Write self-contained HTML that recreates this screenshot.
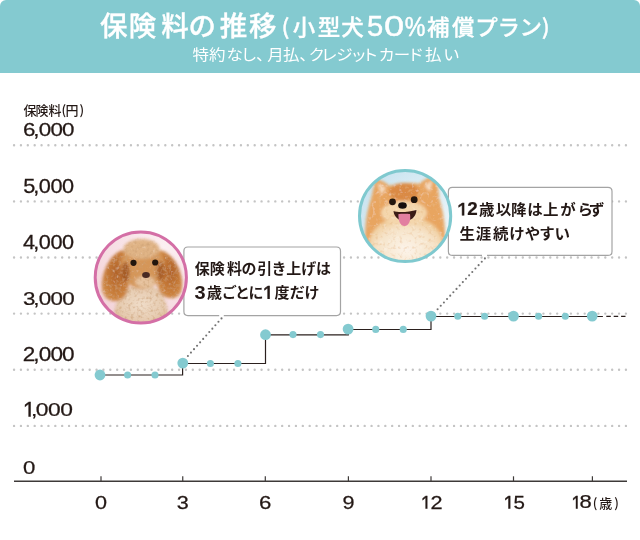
<!DOCTYPE html>
<html lang="ja">
<head>
<meta charset="utf-8">
<title>保険料の推移</title>
<style>
html,body{margin:0;padding:0;background:#fff;}
body{width:640px;height:540px;overflow:hidden;position:relative;}
svg{position:absolute;left:0;top:0;display:block;}
</style>
</head>
<body>
<svg width="640" height="540" viewBox="0 0 640 540">
<path d="M0,73 V6 A6,6 0 0 1 6,0 H634 A6,6 0 0 1 640,6 V73 Z" fill="#84cad0"/>
<text transform="translate(0,36.3) scale(1.0,0.98)" x="100.05 128.8 161.25 188.6 219.85 248.95" y="0" font-family='"Noto Sans CJK JP", sans-serif' font-size="27.5" font-weight="500" fill="#fff" stroke="#fff" stroke-width="0.35">保険料の推移</text>
<text transform="translate(0,35.32) scale(1.0,0.96)" x="281.4 292.65 317.8 341.2" y="0" font-family='"Noto Sans CJK JP", sans-serif' font-size="22.5" font-weight="500" fill="#fff" stroke="#fff" stroke-width="0.3">(小型犬</text>
<text transform="translate(0,35.08) scale(1.0,0.96)" x="427.05 451.95 475.25 497.6 519.5 541.8" y="0" font-family='"Noto Sans CJK JP", sans-serif' font-size="22.5" font-weight="500" fill="#fff" stroke="#fff" stroke-width="0.3">補償プラン)</text>
<text transform="translate(367.10,35.74) scale(1.042,1.036)" font-family='"Liberation Sans","Noto Sans CJK JP", sans-serif' font-size="28" font-weight="400" fill="#fff" stroke="#fff" stroke-width="0.45">5</text>
<text transform="translate(384.10,35.94) scale(1.296,1.058)" font-family='"Liberation Sans","Noto Sans CJK JP", sans-serif' font-size="28" font-weight="400" fill="#fff" stroke="#fff" stroke-width="0.4">0</text>
<text transform="translate(404.87,36.00) scale(0.967,1.158)" font-family='"Liberation Sans","Noto Sans CJK JP", sans-serif' font-size="24" font-weight="400" fill="#fff" stroke="#fff" stroke-width="0.45">%</text>
<text transform="translate(0,60.34) scale(1.0,0.93)" x="192.6 209.0 226.55 240.7 256.0 267.3 282.9 299.3 308.55 321.05 336.25 350.4 362.0 378.6 393.85 407.5 425.1 443.3" y="0" font-family='"Noto Sans CJK JP", sans-serif' font-size="16.5" font-weight="400" fill="#fff">特約なし、月払、クレジットカード払い</text>
<text x="23.55 35.4 48.5 61.45 65.5 79.45" y="115.0" font-family='"Noto Sans CJK JP", sans-serif' font-size="13" font-weight="500" fill="#231815">保険料(円)</text>
<g stroke="#c4c4c4" stroke-width="2.4" stroke-linecap="round" stroke-dasharray="0 6.875">
<line x1="14.06" y1="145.3" x2="628" y2="145.3"/>
<line x1="14.06" y1="201.4" x2="628" y2="201.4"/>
<line x1="14.06" y1="257.5" x2="628" y2="257.5"/>
<line x1="14.06" y1="313.6" x2="628" y2="313.6"/>
<line x1="14.06" y1="369.75" x2="628" y2="369.75"/>
<line x1="14.06" y1="425.9" x2="628" y2="425.9"/>
</g>
<text transform="translate(0,136.45) scale(1.177,1.000)" x="19.47 28.24 32.89 42.83 52.77" y="0" font-family='"Liberation Sans","Noto Sans CJK JP", sans-serif' font-size="19" font-weight="400" fill="#231815" stroke="#231815" stroke-width="0.25">6,000</text>
<text transform="translate(0,192.55) scale(1.144,1.019)" x="20.31 29.09 33.85 44.08 54.3" y="0" font-family='"Liberation Sans","Noto Sans CJK JP", sans-serif' font-size="19" font-weight="400" fill="#231815" stroke="#231815" stroke-width="0.25">5,000</text>
<text transform="translate(0,248.50) scale(1.144,1.038)" x="20.12 29.09 33.85 44.08 54.3" y="0" font-family='"Liberation Sans","Noto Sans CJK JP", sans-serif' font-size="19" font-weight="400" fill="#231815" stroke="#231815" stroke-width="0.25">4,000</text>
<text transform="translate(0,304.55) scale(1.178,1.000)" x="19.46 28.22 32.87 42.81 52.74" y="0" font-family='"Liberation Sans","Noto Sans CJK JP", sans-serif' font-size="19" font-weight="400" fill="#231815" stroke="#231815" stroke-width="0.25">3,000</text>
<text transform="translate(0,360.90) scale(1.189,1.019)" x="19.19 27.94 32.56 42.4 52.24" y="0" font-family='"Liberation Sans","Noto Sans CJK JP", sans-serif' font-size="19" font-weight="400" fill="#231815" stroke="#231815" stroke-width="0.25">2,000</text>
<clipPath id="c1_1"><rect x="22" y="400.20000000000005" width="11.7" height="16.49999999999998"/></clipPath><g clip-path="url(#c1_1)"><text transform="translate(22.79,419.24) scale(1.224,1.224)" font-family='"Liberation Sans", sans-serif' font-size="19" font-weight="400" fill="#231815" stroke="#231815" stroke-width="0.25">1</text></g>
<text transform="translate(0,416.35) scale(1.200,0.993)" x="25.75 29.83 40.0 50.17" y="0" font-family='"Liberation Sans","Noto Sans CJK JP", sans-serif' font-size="19" font-weight="400" fill="#231815" stroke="#231815" stroke-width="0.25">,000</text>
<text transform="translate(23.12,474.37) scale(1.167,0.933)" font-family='"Liberation Sans","Noto Sans CJK JP", sans-serif' font-size="19" font-weight="400" fill="#231815" stroke="#231815" stroke-width="0.25">0</text>
<line x1="14" y1="481.2" x2="627" y2="481.2" stroke="#3e3a39" stroke-width="1.5"/>
<g stroke="#3e3a39" stroke-width="1.2">
<line x1="101" y1="476.3" x2="101" y2="481"/>
<line x1="182.75" y1="476.3" x2="182.75" y2="481"/>
<line x1="265.3" y1="476.3" x2="265.3" y2="481"/>
<line x1="348.4" y1="476.3" x2="348.4" y2="481"/>
<line x1="431" y1="476.3" x2="431" y2="481"/>
<line x1="513.5" y1="476.3" x2="513.5" y2="481"/>
<line x1="592.4" y1="476.3" x2="592.4" y2="481"/>
</g>
<text transform="translate(95.00,508.50) scale(1.200,1.008)" font-family='"Liberation Sans","Noto Sans CJK JP", sans-serif' font-size="18" font-weight="400" fill="#231815" stroke="#231815" stroke-width="0.25">0</text>
<text transform="translate(176.75,508.50) scale(1.200,1.008)" font-family='"Liberation Sans","Noto Sans CJK JP", sans-serif' font-size="18" font-weight="400" fill="#231815" stroke="#231815" stroke-width="0.25">3</text>
<text transform="translate(258.96,508.50) scale(1.236,1.008)" font-family='"Liberation Sans","Noto Sans CJK JP", sans-serif' font-size="18" font-weight="400" fill="#231815" stroke="#231815" stroke-width="0.25">6</text>
<text transform="translate(342.40,508.50) scale(1.200,1.008)" font-family='"Liberation Sans","Noto Sans CJK JP", sans-serif' font-size="18" font-weight="400" fill="#231815" stroke="#231815" stroke-width="0.25">9</text>
<clipPath id="c1_2"><rect x="419.5" y="493" width="10.699999999999989" height="15.85"/></clipPath><g clip-path="url(#c1_2)"><text transform="translate(420.68,511.31) scale(1.066,1.233)" font-family='"Liberation Sans", sans-serif' font-size="18" font-weight="400" fill="#231815" stroke="#231815" stroke-width="0.25">1</text></g>
<text transform="translate(430.39,508.75) scale(1.206,1.020)" font-family='"Liberation Sans","Noto Sans CJK JP", sans-serif' font-size="18" font-weight="400" fill="#231815" stroke="#231815" stroke-width="0.25">2</text>
<clipPath id="c1_3"><rect x="502.3" y="493" width="11.0" height="15.85"/></clipPath><g clip-path="url(#c1_3)"><text transform="translate(503.36,511.31) scale(1.134,1.233)" font-family='"Liberation Sans", sans-serif' font-size="18" font-weight="400" fill="#231815" stroke="#231815" stroke-width="0.25">1</text></g>
<text transform="translate(513.54,508.50) scale(1.141,1.020)" font-family='"Liberation Sans","Noto Sans CJK JP", sans-serif' font-size="18" font-weight="400" fill="#231815" stroke="#231815" stroke-width="0.25">5</text>
<clipPath id="c1_4"><rect x="570.0" y="493.1" width="10.600000000000023" height="15.699999999999966"/></clipPath><g clip-path="url(#c1_4)"><text transform="translate(571.22,511.25) scale(1.043,1.220)" font-family='"Liberation Sans", sans-serif' font-size="18" font-weight="400" fill="#231815" stroke="#231815" stroke-width="0.25">1</text></g>
<text transform="translate(579.48,508.45) scale(1.224,0.988)" font-family='"Liberation Sans","Noto Sans CJK JP", sans-serif' font-size="18" font-weight="400" fill="#231815" stroke="#231815" stroke-width="0.25">8</text>
<text x="592.75 599.2 614.35" y="507.7" font-family='"Noto Sans CJK JP", sans-serif' font-size="13" font-weight="500" fill="#231815">(歳)</text>
<g fill="#727272"><circle cx="187.90" cy="356.00" r="1.05"/><circle cx="190.95" cy="352.58" r="1.05"/><circle cx="194.01" cy="349.16" r="1.05"/><circle cx="197.06" cy="345.75" r="1.05"/><circle cx="200.12" cy="342.33" r="1.05"/><circle cx="203.17" cy="338.91" r="1.05"/><circle cx="206.23" cy="335.49" r="1.05"/><circle cx="209.28" cy="332.07" r="1.05"/><circle cx="212.34" cy="328.65" r="1.05"/><circle cx="215.39" cy="325.24" r="1.05"/><circle cx="218.45" cy="321.82" r="1.05"/><circle cx="221.50" cy="318.40" r="1.05"/></g>
<g fill="#727272"><circle cx="437.60" cy="309.20" r="1.05"/><circle cx="440.75" cy="305.81" r="1.05"/><circle cx="443.91" cy="302.43" r="1.05"/><circle cx="447.06" cy="299.04" r="1.05"/><circle cx="450.21" cy="295.65" r="1.05"/><circle cx="453.37" cy="292.27" r="1.05"/><circle cx="456.52" cy="288.88" r="1.05"/><circle cx="459.67" cy="285.49" r="1.05"/><circle cx="462.83" cy="282.11" r="1.05"/><circle cx="465.98" cy="278.72" r="1.05"/><circle cx="469.13" cy="275.33" r="1.05"/><circle cx="472.29" cy="271.95" r="1.05"/><circle cx="475.44" cy="268.56" r="1.05"/><circle cx="478.59" cy="265.17" r="1.05"/><circle cx="481.75" cy="261.79" r="1.05"/><circle cx="484.90" cy="258.40" r="1.05"/></g>
<path d="M100,375 H182.6 V363.5 H265.5 V334.9 H348.3 V329.5 H431 V316.5 H602.9" fill="none" stroke="#2b201e" stroke-width="1.2"/>
<line x1="606.3" y1="316.4" x2="625.5" y2="316.4" stroke="#2b201e" stroke-width="1.2" stroke-dasharray="4.5 2.9"/>
<g fill="#84cad0">
<circle cx="100" cy="375" r="5.4"/>
<circle cx="182.8" cy="363.1" r="5.4"/>
<circle cx="265.5" cy="334.7" r="5.4"/>
<circle cx="348.1" cy="329.1" r="5.4"/>
<circle cx="431" cy="316.1" r="5.4"/>
<circle cx="513.5" cy="316.1" r="5.4"/>
<circle cx="592.2" cy="316.1" r="5.4"/>
<circle cx="127.6" cy="375" r="3.55"/>
<circle cx="155" cy="375" r="3.55"/>
<circle cx="210.4" cy="363.5" r="3.55"/>
<circle cx="237.9" cy="363.5" r="3.55"/>
<circle cx="293" cy="334.6" r="3.55"/>
<circle cx="320.5" cy="334.6" r="3.55"/>
<circle cx="375.75" cy="329.4" r="3.55"/>
<circle cx="403.25" cy="329.4" r="3.55"/>
<circle cx="457.8" cy="316.2" r="3.55"/>
<circle cx="484.6" cy="316.2" r="3.55"/>
<circle cx="538.6" cy="316.2" r="3.55"/>
<circle cx="565.3" cy="316.2" r="3.55"/>
</g>
<rect x="183.9" y="247.0" width="156.6" height="68.60000000000002" rx="4" fill="#fff"/><path d="M223.8,315.6 H336.5 Q340.5,315.6 340.5,311.6 V251.0 Q340.5,247.0 336.5,247.0 H187.9 Q183.9,247.0 183.9,251.0 V311.6 Q183.9,315.6 187.9,315.6 H219.2" fill="none" stroke="#a4a4a4" stroke-width="1.2"/>
<text transform="translate(0,274.31) scale(1.0,0.95)" x="194.65 209.8 226.95 241.5 257.35 271.5 286.15 301.25 316.0" y="0" font-family='"Noto Sans CJK JP", sans-serif' font-size="15" font-weight="700" fill="#231815">保険料の引き上げは</text>
<text transform="translate(194.41,298.64) scale(1.176,1.042)" font-family='"Liberation Sans","Noto Sans CJK JP", sans-serif' font-size="17" font-weight="700" fill="#231815">3</text>
<text transform="translate(0,297.81) scale(1.0,0.95)" x="207.0 221.75 235.05 248.5" y="0" font-family='"Noto Sans CJK JP", sans-serif' font-size="15" font-weight="700" fill="#231815">歳ごとに</text>
<clipPath id="c1_5"><rect x="261.6" y="283.4" width="10.899999999999977" height="15.6"/></clipPath><g clip-path="url(#c1_5)"><text transform="translate(262.70,301.43) scale(1.176,1.282)" font-family='"Liberation Sans", sans-serif' font-size="17" font-weight="400" fill="#231815" stroke="#231815" stroke-width="0.5">1</text></g>
<text transform="translate(0,297.81) scale(1.0,0.95)" x="274.6 289.7 304.4" y="0" font-family='"Noto Sans CJK JP", sans-serif' font-size="15" font-weight="700" fill="#231815">度だけ</text>
<rect x="448.4" y="187.3" width="163.60000000000002" height="68.1" rx="4" fill="#fff"/><path d="M487,255.4 H608.0 Q612.0,255.4 612.0,251.4 V191.3 Q612.0,187.3 608.0,187.3 H452.4 Q448.4,187.3 448.4,191.3 V251.4 Q448.4,255.4 452.4,255.4 H482" fill="none" stroke="#a4a4a4" stroke-width="1.2"/>
<clipPath id="c1_6"><rect x="455.75" y="199.2" width="11.25" height="16.200000000000024"/></clipPath><g clip-path="url(#c1_6)"><text transform="translate(456.71,217.91) scale(1.190,1.265)" font-family='"Liberation Sans", sans-serif' font-size="18" font-weight="400" fill="#231815" stroke="#231815" stroke-width="0.5">1</text></g>
<text transform="translate(467.31,215.30) scale(1.047,1.048)" font-family='"Liberation Sans","Noto Sans CJK JP", sans-serif' font-size="18" font-weight="700" fill="#231815" stroke="#231815" stroke-width="0.2">2</text>
<text transform="translate(0,215.01) scale(1.0,0.97)" x="478.9 495.7 510.9 527.25 543.0 560.15 577.4 589.0" y="0" font-family='"Noto Sans CJK JP", sans-serif' font-size="15.5" font-weight="700" fill="#231815">歳以降は上がらず</text>
<text transform="translate(0,238.93) scale(1.0,0.97)" x="459.5 475.75 493.0 509.25 524.85 539.35 554.5" y="0" font-family='"Noto Sans CJK JP", sans-serif' font-size="15.5" font-weight="700" fill="#231815">生涯続けやすい</text>
<defs>
<clipPath id="cpP"><circle cx="140.8" cy="277.5" r="45.6"/></clipPath>
<clipPath id="cpM"><circle cx="405.1" cy="216.0" r="45.6"/></clipPath>
<filter id="soft" x="-20%" y="-20%" width="140%" height="140%"><feGaussianBlur stdDeviation="1.4"/></filter>
<filter id="soft3" x="-20%" y="-20%" width="140%" height="140%"><feGaussianBlur stdDeviation="3"/></filter>
<filter id="soft2" x="-20%" y="-20%" width="140%" height="140%"><feGaussianBlur stdDeviation="0.6"/></filter>
<filter id="furP" x="-10%" y="-10%" width="120%" height="120%"><feGaussianBlur in="SourceGraphic" stdDeviation="1.4" result="b"/><feTurbulence type="fractalNoise" baseFrequency="0.32" numOctaves="2" seed="4" result="n"/><feColorMatrix in="n" type="matrix" values="0 0 0 0 0.6  0 0 0 0 0.35  0 0 0 0 0.17  0 0 0 1.8 -0.85" result="nd"/><feComposite in="nd" in2="b" operator="in" result="nd2"/><feTurbulence type="fractalNoise" baseFrequency="0.3" numOctaves="2" seed="11" result="m"/><feColorMatrix in="m" type="matrix" values="0 0 0 0 0.96  0 0 0 0 0.84  0 0 0 0 0.7  0 0 0 1.1 -0.7" result="ml"/><feComposite in="ml" in2="b" operator="in" result="ml2"/><feMerge><feMergeNode in="b"/><feMergeNode in="nd2"/><feMergeNode in="ml2"/></feMerge></filter>
<filter id="furM" x="-10%" y="-10%" width="120%" height="120%"><feGaussianBlur in="SourceGraphic" stdDeviation="1.4" result="b"/><feTurbulence type="fractalNoise" baseFrequency="0.28" numOctaves="2" seed="7" result="n"/><feColorMatrix in="n" type="matrix" values="0 0 0 0 0.8  0 0 0 0 0.48  0 0 0 0 0.22  0 0 0 1.6 -0.85" result="nd"/><feComposite in="nd" in2="b" operator="in" result="nd2"/><feTurbulence type="fractalNoise" baseFrequency="0.25" numOctaves="2" seed="13" result="m"/><feColorMatrix in="m" type="matrix" values="0 0 0 0 1  0 0 0 0 0.96  0 0 0 0 0.9  0 0 0 1.2 -0.72" result="ml"/><feComposite in="ml" in2="b" operator="in" result="ml2"/><feMerge><feMergeNode in="b"/><feMergeNode in="nd2"/><feMergeNode in="ml2"/></feMerge></filter>
<radialGradient id="bgP" cx="0.72" cy="0.2" r="0.95"><stop offset="0" stop-color="#fcf0f2"/><stop offset="0.6" stop-color="#f6dde2"/><stop offset="1" stop-color="#f1cdd5"/></radialGradient>
<radialGradient id="bgM" cx="0.8" cy="0.75" r="0.95"><stop offset="0" stop-color="#f3f9fb"/><stop offset="0.6" stop-color="#dcedf5"/><stop offset="1" stop-color="#c3e0ee"/></radialGradient>
<radialGradient id="chestP" cx="0.5" cy="0.45" r="0.6"><stop offset="0" stop-color="#efdcc8"/><stop offset="0.7" stop-color="#e6cbb0"/><stop offset="1" stop-color="#d6b08a"/></radialGradient>
<radialGradient id="chestM" cx="0.5" cy="0.6" r="0.6"><stop offset="0" stop-color="#fcf4ea"/><stop offset="0.65" stop-color="#f6e3c8"/><stop offset="1" stop-color="#efc892"/></radialGradient>
<radialGradient id="headM" cx="0.5" cy="0.4" r="0.6"><stop offset="0" stop-color="#d98b4a"/><stop offset="1" stop-color="#eab57c"/></radialGradient>
<radialGradient id="earP" cx="0.55" cy="0.45" r="0.75"><stop offset="0" stop-color="#b0622a"/><stop offset="0.55" stop-color="#c87d3a"/><stop offset="1" stop-color="#d99a58"/></radialGradient>
</defs>
<g clip-path="url(#cpP)">
<rect x="90" y="226" width="102" height="104" fill="url(#bgP)"/>
<g filter="url(#furP)">
<path d="M115,326 C113,306 117,293 129,287 L154,287 C165,293 169,306 168,326 Z" fill="url(#chestP)"/>
<path d="M123,250 C112,253 103,268 102,284 C101,296 108,302 117,301 C125,300 129,292 129,280 L129,258 Z" fill="url(#earP)"/>
<path d="M160,250 C171,253 181,266 182,282 C183,294 177,299 169,298 C161,297 157,290 157,278 L157,257 Z" fill="url(#earP)"/>
<ellipse cx="142.5" cy="266" rx="22" ry="23" fill="#d59658"/>
<ellipse cx="141.5" cy="249" rx="18" ry="10" fill="#e0b486"/>
<ellipse cx="145" cy="282" rx="10" ry="6" fill="#e6c29e"/>
<ellipse cx="125.5" cy="272" rx="4" ry="10" fill="#a65c28"/>
<ellipse cx="160.5" cy="271" rx="4" ry="10" fill="#aa6029"/>
</g>
<g filter="url(#soft2)">
<circle cx="133.5" cy="262.8" r="3.1" fill="#24140e"/>
<circle cx="155.2" cy="262.5" r="3.1" fill="#24140e"/>
<ellipse cx="146" cy="275" rx="3.9" ry="3" fill="#4a2a22"/>
</g>
</g>
<circle cx="140.8" cy="277.5" r="45.6" fill="none" stroke="#d46fa6" stroke-width="3"/>
<g clip-path="url(#cpM)">
<rect x="355" y="166" width="102" height="104" fill="url(#bgM)"/>
<g filter="url(#furM)">
<path d="M367,266 C363,240 365,216 371,199 C373,191 374,184 376,179 C381,180 386,183 390,186 C397,183 411,182 419,184 C423,180 429,177 434,176 C437,183 439,191 439,198 C445,215 447,240 444,266 Z" fill="#e8a560"/>
<ellipse cx="406" cy="244" rx="37" ry="28" fill="url(#chestM)"/>
<ellipse cx="404" cy="192" rx="15" ry="9" fill="#da8a45"/>
<ellipse cx="404" cy="213" rx="23" ry="12" fill="#f4d6ac"/>
<path d="M377.5,183 L386,188 L381,195 Z" fill="#f6dcc0"/>
<path d="M432.5,180 L424.5,185.5 L430,192 Z" fill="#f6dcc0"/>
</g>
<g filter="url(#soft2)">
<circle cx="392.5" cy="201.8" r="3.4" fill="#24140e"/>
<circle cx="414.2" cy="199.7" r="3.4" fill="#24140e"/>
<ellipse cx="402.5" cy="205.5" rx="4.3" ry="3.2" fill="#151010"/>
<path d="M393.5,211 C398,213 410,212 416.5,210 C416,217 411,221 405,221 C399,221 394,217 393.5,211 Z" fill="#3a1a14"/>
<path d="M398.5,214 C401,213.5 408,213.5 410,214 C411,220 409,226 404.5,226 C400,226 398,220 398.5,214 Z" fill="#e27fa0"/>
</g>
</g>
<circle cx="405.1" cy="216.0" r="45.6" fill="none" stroke="#7fc9cf" stroke-width="3"/>
</svg>
</body>
</html>
